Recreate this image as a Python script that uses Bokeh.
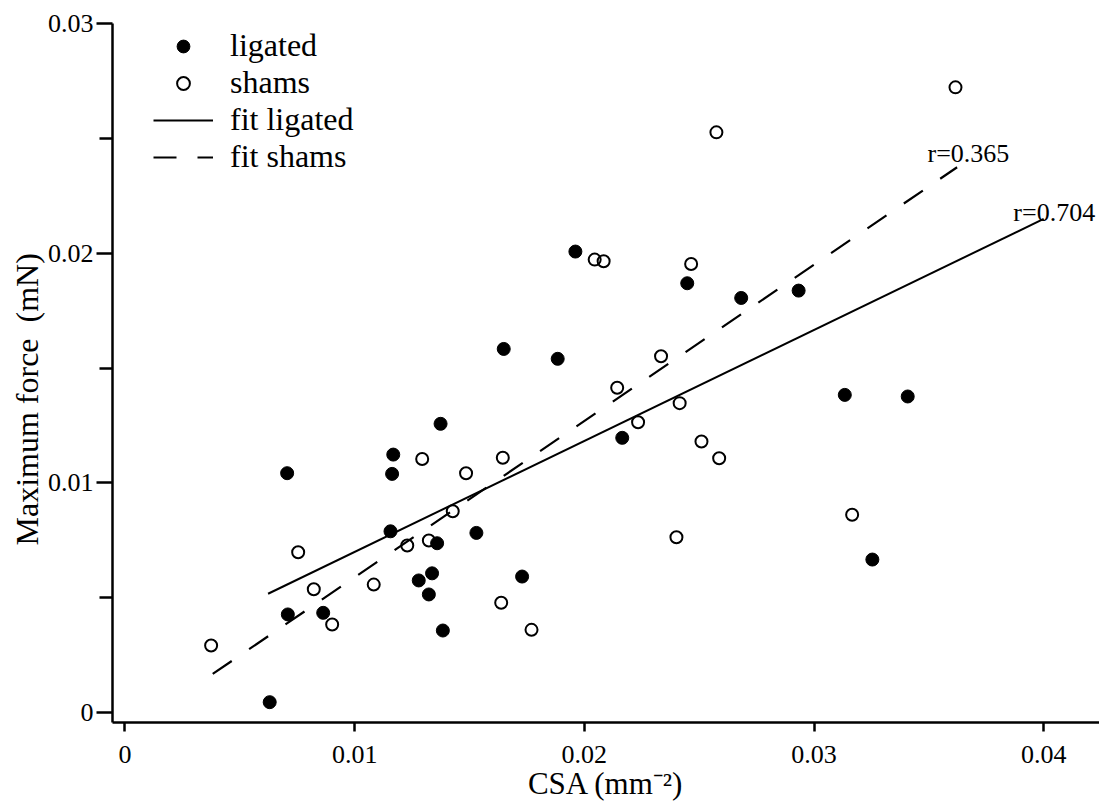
from bokeh.plotting import figure
from bokeh.models import (FixedTicker, Legend, LegendItem, Label, Range1d,
                          CustomJSTickFormatter, Title, AllLabels)
from bokeh.embed import file_html
from bokeh.resources import INLINE

# ---- data ----
lig_csa = [0.00630, 0.00709, 0.00706, 0.00863, 0.01156, 0.01163, 0.01168,
           0.01279, 0.01323, 0.01337, 0.01359, 0.01374, 0.01384, 0.01530,
           0.01649, 0.01729, 0.01884, 0.01961, 0.02165, 0.02448, 0.02683,
           0.02933, 0.03134, 0.03254, 0.03408]
lig_force = [0.00045, 0.00427, 0.01042, 0.00434, 0.00789, 0.01039, 0.01123,
             0.00575, 0.00514, 0.00606, 0.00737, 0.01257, 0.00357, 0.00782,
             0.01583, 0.00592, 0.01540, 0.02007, 0.01196, 0.01869, 0.01805,
             0.01837, 0.01383, 0.00666, 0.01376]

sham_csa = [0.00375, 0.00754, 0.00822, 0.00902, 0.01083, 0.01229, 0.01294,
            0.01323, 0.01427, 0.01485, 0.01638, 0.01645, 0.01770, 0.02045,
            0.02084, 0.02143, 0.02234, 0.02334, 0.02401, 0.02415, 0.02465,
            0.02510, 0.02575, 0.02587, 0.03166, 0.03616]
sham_force = [0.00292, 0.00698, 0.00537, 0.00383, 0.00557, 0.00727, 0.01104,
              0.00749, 0.00876, 0.01042, 0.00478, 0.01109, 0.00360, 0.01972,
              0.01965, 0.01414, 0.01264, 0.01551, 0.00763, 0.01347, 0.01953,
              0.01180, 0.02526, 0.01107, 0.00861, 0.02722]

fit_lig_csa = [0.00623, 0.04000]
fit_lig_force = [0.00517, 0.02149]
fit_sham_csa = [0.00382, 0.03623]
fit_sham_force = [0.00168, 0.02374]

r_texts = ["r=0.365", "r=0.704"]
r_csa = [0.03494, 0.03868]
r_force = [0.02434, 0.02177]

x_ticks = [0, 0.01, 0.02, 0.03, 0.04]
x_tick_labels = ["0", "0.01", "0.02", "0.03", "0.04"]
y_ticks = [0, 0.01, 0.02, 0.03]
y_tick_labels = ["0", "0.01", "0.02", "0.03"]
y_minor_ticks = [0.005, 0.015, 0.025]

x_label = "CSA (mm\u207b\u00b2)"
y_label = "Maximum force \u00a0(mN)"

SERIF = "Liberation Serif"

X_MIN, X_MAX = -0.000544, 0.04243

p = figure(width=1099, height=807,
           x_range=Range1d(X_MIN, X_MAX),
           y_range=Range1d(-0.000435, 0.0300),
           output_backend="svg", toolbar_location=None,
           min_border_left=112, min_border_right=0,
           min_border_top=23, min_border_bottom=85)
p.grid.visible = False
p.outline_line_color = None
p.background_fill_color = "white"
p.border_fill_color = "white"

tick_code = ("for (let i = 0; i < vals.length; i++) { "
             "if (Math.abs(tick - vals[i]) < 1e-9) return labs[i]; } "
             "return tick.toFixed(2);")

xa = p.xaxis[0]
xa.ticker = FixedTicker(ticks=x_ticks, minor_ticks=[])
xa.formatter = CustomJSTickFormatter(
    args=dict(vals=x_ticks, labs=x_tick_labels), code=tick_code)
xa.axis_label = x_label
xa.major_label_policy = AllLabels()
ya = p.yaxis[0]
ya.ticker = FixedTicker(ticks=y_ticks, minor_ticks=y_minor_ticks)
ya.formatter = CustomJSTickFormatter(
    args=dict(vals=y_ticks, labs=y_tick_labels), code=tick_code)
ya.major_label_policy = AllLabels()

for ax in (xa, ya):
    ax.axis_line_color = "black"
    ax.axis_line_width = 2.5
    ax.major_tick_line_color = "black"
    ax.major_tick_line_width = 2.5
    ax.minor_tick_line_color = "black"
    ax.minor_tick_line_width = 2.5
    ax.major_tick_in = 0
    ax.minor_tick_in = 0
    ax.major_label_text_font = SERIF
    ax.major_label_text_font_size = "26px"
    ax.major_label_text_color = "black"
    ax.axis_label_text_font = SERIF
    ax.axis_label_text_font_size = "31px"
    ax.axis_label_text_font_style = "normal"
    ax.axis_label_text_color = "black"

xa.major_tick_out = 9
xa.minor_tick_out = 0
xa.major_label_standoff = 14
xa.axis_label_standoff = 0
ya.major_tick_out = 16
ya.minor_tick_out = 13
ya.major_label_standoff = 3

p.add_layout(Title(text=y_label, align="left", offset=177, standoff=0,
                   text_font=SERIF, text_font_size="32px",
                   text_font_style="normal", text_color="black"), "left")

line_lig = p.line(fit_lig_csa, fit_lig_force, line_color="black", line_width=2)
line_sham = p.line(fit_sham_csa, fit_sham_force, line_color="black",
                   line_width=2.2, line_dash="23 21")

r_lig = p.scatter(lig_csa, lig_force, marker="circle", size=13,
                  fill_color="black", line_color="black", line_width=1)
r_sham = p.scatter(sham_csa, sham_force, marker="circle", size=12,
                   fill_color=None, line_color="black", line_width=2)

for t, xv, yv in zip(r_texts, r_csa, r_force):
    p.add_layout(Label(x=xv, y=yv, text=t, text_font=SERIF,
                       text_font_size="26px", text_color="black",
                       text_baseline="middle", text_align="left"))

legend = Legend(items=[
    LegendItem(label="ligated", renderers=[r_lig]),
    LegendItem(label="shams", renderers=[r_sham]),
    LegendItem(label="fit ligated", renderers=[line_lig]),
    LegendItem(label="fit shams", renderers=[line_sham]),
], location=(41, 547), orientation="vertical",
   glyph_width=60, glyph_height=32, label_height=32, label_standoff=17,
   spacing=0, padding=0, margin=0,
   label_text_font=SERIF, label_text_font_size="32px",
   label_text_color="black",
   border_line_alpha=0, background_fill_alpha=0)
p.add_layout(legend)

open("out.html", "w").write(file_html(p, INLINE))
